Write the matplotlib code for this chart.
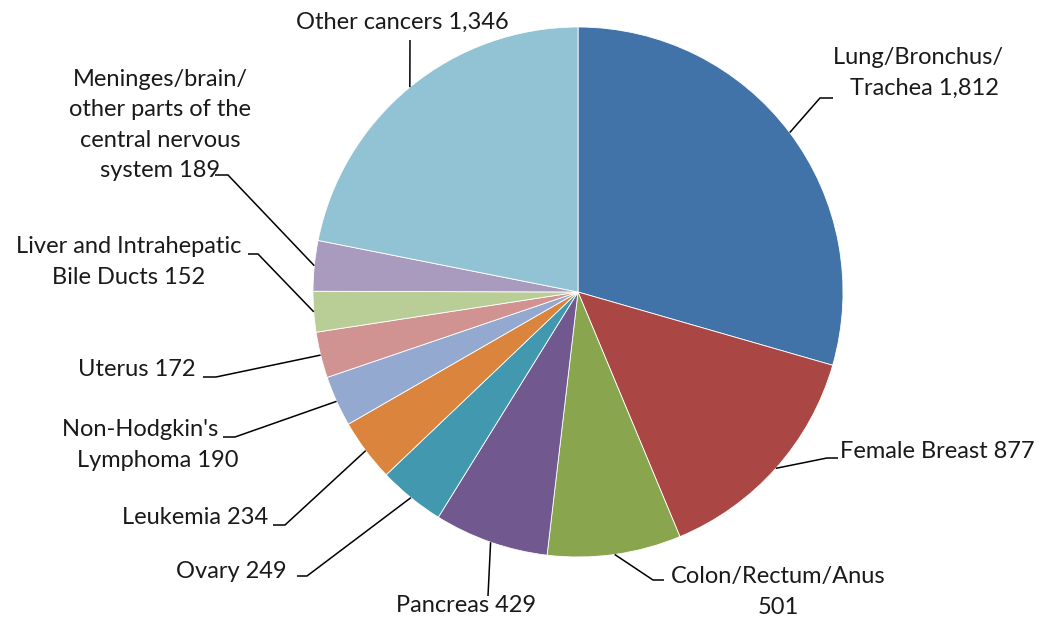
import matplotlib
matplotlib.use("Agg")
import matplotlib.pyplot as plt
import numpy as np

# Cancer sites and counts
NBSP = "\u00a0"
sites = [
    "Lung/Bronchus/" + NBSP * 2 + "\nTrachea 1,812",
    "Female Breast 877",
    "Colon/Rectum/Anus\n501",
    "Pancreas 429",
    "Ovary 249",
    "Leukemia 234",
    "Non-Hodgkin's" + NBSP * 6 + "\nLymphoma 190",
    "Uterus 172",
    "Liver and Intrahepatic\nBile Ducts 152",
    "Meninges/brain/\nother parts of the\ncentral nervous\nsystem 189",
    "Other cancers 1,346",
]
counts = [1812, 877, 501, 429, 249, 234, 190, 172, 152, 189, 1346]
colors = ["#4273A8", "#AA4643", "#89A54E", "#71588F", "#4198AF", "#DB843D",
          "#93A9CF", "#D19392", "#B9CD96", "#A99BBD", "#92C3D5"]

W, H = 1042, 620
CX, CY, R = 578, 292, 265  # pie centre/radius in pixel space (y from top)

# label layout: text anchor (x, y), alignment, elbow point, line end near text
layout = [
    dict(xy=(924, 73), ha="center", elbow=(820, 98), end=(833, 98)),
    dict(xy=(840, 451), ha="left", elbow=(827, 458), end=(838, 458)),
    dict(xy=(778, 592), ha="center", elbow=(653, 580), end=(664, 580)),
    dict(xy=(466, 605), ha="center", elbow=(488, 596), end=(488, 596)),
    dict(xy=(287, 572), ha="right", elbow=(307, 576), end=(297, 576)),
    dict(xy=(268, 518), ha="right", elbow=(285, 525), end=(273, 525)),
    dict(xy=(158, 445), ha="center", elbow=(235, 437), end=(223, 437)),
    dict(xy=(196, 370), ha="right", elbow=(216, 377), end=(203, 377)),
    dict(xy=(129, 262), ha="center", elbow=(258, 254), end=(248, 254)),
    dict(xy=(160, 125), ha="center", elbow=(228, 175), end=(215, 175)),
    dict(xy=(402, 22), ha="center", elbow=(410, 40), end=(410, 40)),
]

def Y(py):
    return H - py

fig = plt.figure(figsize=(W / 100, H / 100), dpi=100)
ax = fig.add_axes([0, 0, 1, 1])

wedges, _ = ax.pie(counts, colors=colors, startangle=90, counterclock=False,
                   center=(CX, Y(CY)), radius=R, frame=True,
                   wedgeprops=dict(edgecolor="white", linewidth=0.6))
ax.set_xlim(0, W)
ax.set_ylim(0, H)
ax.set_aspect("equal")
ax.axis("off")

font = dict(family=["Lato", "DejaVu Sans"], fontsize=17, color="#1a1a1a")

for w, label, lay in zip(wedges, sites, layout):
    mid = np.deg2rad((w.theta1 + w.theta2) / 2)
    px = CX + R * np.cos(mid)
    py = Y(CY) + R * np.sin(mid)
    ex, ey = lay["elbow"]
    tx, ty = lay["end"]
    ax.plot([px, ex, tx], [py, Y(ey), Y(ty)], color="black", lw=1.1,
            solid_capstyle="butt", solid_joinstyle="miter")
    ax.text(lay["xy"][0], Y(lay["xy"][1]), label, ha=lay["ha"], va="center",
            multialignment="center", linespacing=1.55, **font)

fig.savefig("out.png", dpi=100, facecolor="white")
